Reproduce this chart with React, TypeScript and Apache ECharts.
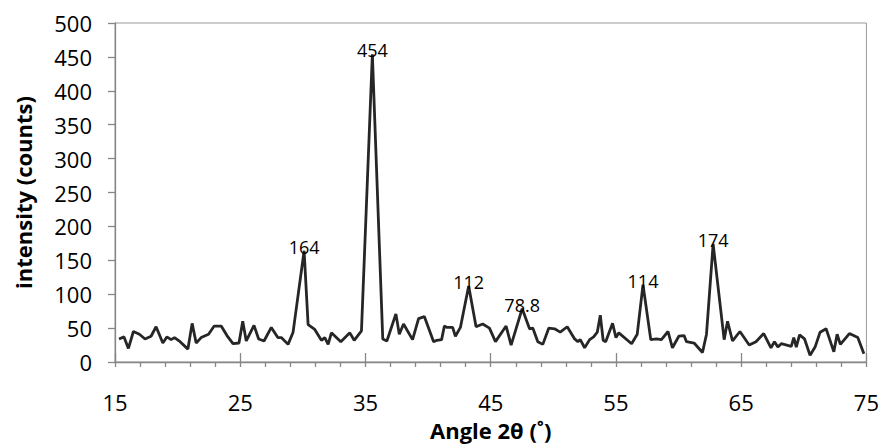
import React, { useEffect, useRef } from "react";
import * as echarts from "echarts";

const angles = [
  15.32, 15.72, 16.07, 16.47, 16.95, 17.4, 17.88, 18.28, 18.82, 19.14, 19.48, 19.75, 20.2, 20.82,
  21.16, 21.48, 21.88, 22.47, 22.92, 23.48, 23.94, 24.42, 24.9, 25.2, 25.48, 26.1, 26.47, 26.9,
  27.48, 28.0, 28.28, 28.82, 29.22, 30.1, 30.42, 30.95, 31.48, 31.75, 32.02, 32.28, 33.03, 33.75,
  34.1, 34.68, 35.55, 36.38, 36.71, 37.43, 37.7, 38.04, 38.76, 39.24, 39.7, 40.44, 40.71, 41.08,
  41.3, 41.51, 41.96, 42.18, 42.58, 43.24, 43.83, 44.36, 44.9, 45.38, 46.23, 46.63, 47.51, 48.1,
  48.36, 48.76, 49.16, 49.64, 50.1, 50.55, 51.11, 51.7, 51.96, 52.15, 52.5, 52.9, 53.22, 53.51,
  53.75, 53.98, 54.18, 54.73, 55.0, 55.23, 56.25, 56.7, 57.16, 57.78, 58.23, 58.63, 59.16, 59.51,
  60.02, 60.44, 60.63, 61.24, 61.91, 62.23, 62.76, 63.64, 63.91, 64.31, 64.9, 65.64, 66.18, 66.8,
  67.38, 67.66, 67.93, 68.2, 69.0, 69.2, 69.4, 69.66, 70.06, 70.5, 70.9, 71.3, 71.78, 72.4, 72.66,
  72.92, 73.64, 74.31, 74.8,
];

const intensities = [
  34, 37, 20, 45, 41, 34, 38, 52, 28, 37, 33, 36, 30, 19,
  57, 28, 36, 41, 53, 53, 39, 27, 28, 60, 31, 54, 34, 31,
  51, 36, 36, 26, 44, 164, 55, 48, 32, 36, 26, 43, 30, 43,
  32, 46, 454, 34, 31, 71, 41, 56, 33, 64, 67, 30, 32, 33,
  53, 51, 51, 38, 51, 112, 52, 56, 50, 30, 53, 25, 78.8, 49,
  50, 30, 26, 50, 49, 44, 52, 34, 30, 33, 21, 33, 37, 44,
  69, 32, 30, 57, 36, 43, 27, 41, 114, 33, 34, 33, 45, 21,
  38, 39, 30, 28, 14, 41, 174, 33, 60, 31, 45, 25, 30, 42,
  21, 30, 22, 27, 23, 36, 22, 40, 34, 10, 22, 44, 49, 15, 41,
  26, 42, 36, 12,
];

// angles of the peaks that carry a value label
const labelledPeaks = [30.1, 35.55, 43.24, 47.51, 57.16, 62.76];

const xTicks = { min: 15, max: 75, interval: 10 };
const yTicks = { min: 0, max: 500, interval: 50 };

const FONT = "'Open Sans', 'DejaVu Sans', sans-serif";
const AXIS_GRAY = "#878787";

export default function App() {
  const ref = useRef<HTMLDivElement>(null);

  useEffect(() => {
    if (!ref.current) return;
    const chart = echarts.init(ref.current, undefined, { renderer: "svg" });

    const data = angles.map((a, i) => {
      const v = intensities[i];
      const item: any = { value: [a, v] };
      if (labelledPeaks.includes(a)) {
        item.label = {
          show: true,
          position: "top",
          distance: -5,
          formatter: String(v),
          fontFamily: FONT,
          fontSize: 18,
          color: "#000",
        };
      }
      return item;
    });

    chart.setOption({
      animation: false,
      backgroundColor: "#fff",
      grid: {
        left: 115,
        right: 15,
        top: 23,
        bottom: 77,
        show: true,
        borderColor: "#9a9a9a",
        borderWidth: 1,
        backgroundColor: "transparent",
      },
      xAxis: [
        {
          type: "value",
          min: xTicks.min,
          max: xTicks.max,
          interval: xTicks.interval,
          position: "bottom",
          name: "Angle 2θ (˚)",
          nameLocation: "middle",
          nameGap: 57,
          nameTextStyle: { fontFamily: FONT, fontSize: 22, fontWeight: "bold", color: "#000" },
          axisLine: { show: true, lineStyle: { color: AXIS_GRAY, width: 1.3 } },
          axisTick: { show: true, inside: false, length: 5, lineStyle: { color: AXIS_GRAY, width: 1.3 } },
          minorTick: { show: true, splitNumber: 5, length: 5, lineStyle: { color: AXIS_GRAY, width: 1.3 } },
          axisLabel: { fontFamily: FONT, fontSize: 22, color: "#000", margin: 29 },
          splitLine: { show: false },
        },
        {
          type: "value",
          min: xTicks.min,
          max: xTicks.max,
          interval: xTicks.interval,
          position: "bottom",
          axisLine: { show: false },
          axisTick: { show: true, inside: true, length: 9, lineStyle: { color: AXIS_GRAY, width: 1.3 } },
          axisLabel: { show: false },
          splitLine: { show: false },
        },
      ],
      yAxis: {
        type: "value",
        min: yTicks.min,
        max: yTicks.max,
        interval: yTicks.interval,
        name: "intensity (counts)",
        nameLocation: "middle",
        nameGap: 81,
        nameTextStyle: { fontFamily: FONT, fontSize: 22, fontWeight: "bold", color: "#000" },
        axisLine: { show: true, lineStyle: { color: AXIS_GRAY, width: 1.3 } },
        axisTick: { show: true, inside: false, length: 7, lineStyle: { color: AXIS_GRAY, width: 1.3 } },
        axisLabel: { fontFamily: FONT, fontSize: 22, color: "#000", margin: 23 },
        splitLine: { show: false },
      },
      series: [
        {
          type: "line",
          xAxisIndex: 0,
          data,
          symbol: "circle",
          symbolSize: 0,
          showSymbol: true,
          lineStyle: { color: "#262626", width: 2.8 },
          itemStyle: { color: "#262626" },
          labelLayout: { hideOverlap: false },
          z: 3,
        },
      ],
    });

    return () => chart.dispose();
  }, []);

  return (
    <div
      ref={ref}
      style={{ position: "fixed", left: 0, top: 0, width: 882, height: 446, background: "#fff" }}
    />
  );
}
